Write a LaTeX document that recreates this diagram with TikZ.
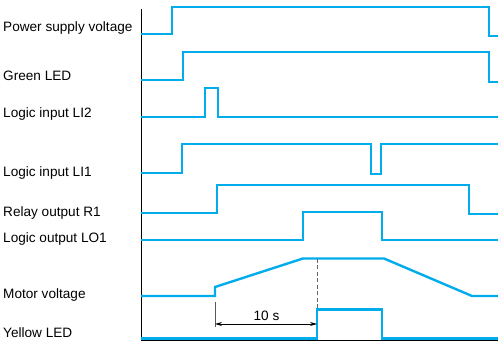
\documentclass[tikz,border=0pt]{standalone}
\usepackage{fontspec}
\setmainfont{Liberation Sans}
\usetikzlibrary{arrows.meta}
\definecolor{sig}{RGB}{0,172,236}
\tikzset{
  signal/.style={draw=sig, line width=2.4pt, line join=miter},
  lbl/.style={anchor=base west, inner sep=0pt, font=\fontsize{13.6}{16}\selectfont},
  axis/.style={draw=black, line width=1pt},
  dim/.style={draw=black, line width=0.8pt},
}
\begin{document}
\begin{tikzpicture}[x=1pt,y=-1pt]
\useasboundingbox (0,0) rectangle (498,352);
% labels
\node[lbl] (l1) at (3,31.5) {Power supply voltage};
\node[lbl] (l2) at (3,81) {Green LED};
\node[lbl] (l3) at (3,118) {Logic input LI2};
\node[lbl] (l4) at (3,177) {Logic input LI1};
\node[lbl] (l5) at (3,217) {Relay output R1};
\node[lbl] (l6) at (3,242.5) {Logic output LO1};
\node[lbl] (l7) at (3,299) {Motor voltage};
\node[lbl] (l8) at (3,338) {Yellow LED};
% axes
\draw[axis] (141,9) -- (141,341) -- (498,341);
% signals
\draw[signal] (141,34) -- (172,34) -- (172,7) -- (489,7) -- (489,36) -- (499,36);
\draw[signal] (141,80) -- (183,80) -- (183,52) -- (489,52) -- (489,82) -- (499,82);
\draw[signal] (141,117) -- (205,117) -- (205,88) -- (218,88) -- (218,117) -- (499,117);
\draw[signal] (141,173) -- (182,173) -- (182,144) -- (371,144) -- (371,174) -- (381,174) -- (381,144) -- (499,144);
\draw[signal] (141,213) -- (217,213) -- (217,185) -- (469,185) -- (469,214) -- (499,214);
\draw[signal] (141,240) -- (303,240) -- (303,212) -- (382,212) -- (382,240) -- (499,240);
\draw[signal] (141,296) -- (215,296) -- (215,287) -- (303,258.5) -- (384,258.5) -- (472,296) -- (499,296);
\draw[signal] (141,338.5) -- (317,338.5) -- (317,309.5) -- (382,309.5) -- (382,338.5) -- (499,338.5);
% dashed marker
\coordinate (dtop) at (317,259);
\coordinate (dbot) at (317,309);
\draw[draw=gray!80!black, line width=1pt, dash pattern=on 4pt off 2.5pt] (dtop) -- (dbot);
% dimension
\coordinate (ta) at (215,302);
\coordinate (tb) at (215,327);
\draw[draw=gray!70!black, line width=0.8pt] (ta) -- (tb);
\coordinate (da) at (215,324);
\coordinate (db) at (317,324);
\draw[dim, {Stealth[length=7pt,width=4pt]}-{Stealth[length=7pt,width=4pt]}] (da) -- (db);
\node[anchor=base, inner sep=0pt, font=\fontsize{13.6}{16}\selectfont] (ten) at (266.5,321) {10 s};
\end{tikzpicture}
\end{document}
